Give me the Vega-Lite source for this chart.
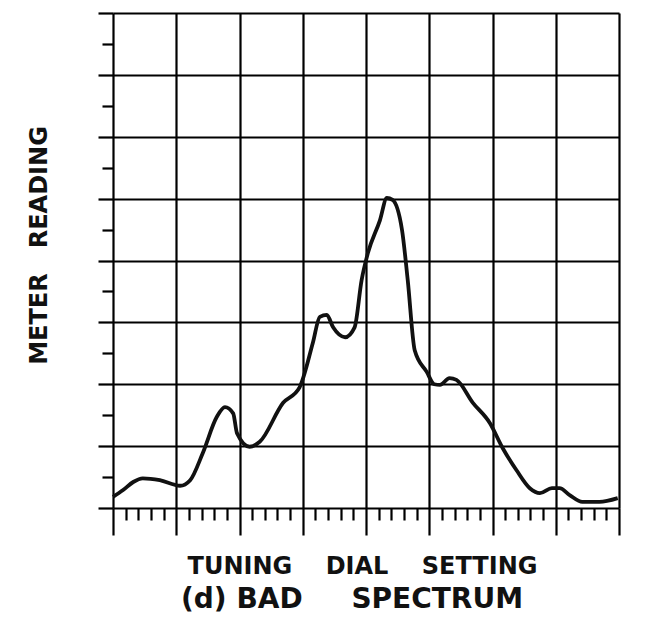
{
  "$schema": "https://vega.github.io/schema/vega-lite/v6.json",
  "width": 506,
  "height": 495,
  "autosize": {"type": "none"},
  "padding": {"left": 113, "top": 13, "right": 39, "bottom": 124},
  "background": "white",
  "config": {
    "view": {"stroke": null},
    "axis": {
      "labels": false,
      "domain": false,
      "grid": true,
      "gridColor": "black",
      "gridWidth": 2.2,
      "tickColor": "black",
      "tickWidth": 2.2,
      "tickCap": "butt",
      "titleFont": "DejaVu Sans",
      "titleFontWeight": "bold",
      "titleColor": "#111111"
    }
  },
  "title": {
    "text": "(d)\u00a0BAD\u00a0\u00a0\u00a0\u00a0\u00a0SPECTRUM",
    "orient": "bottom",
    "anchor": "middle",
    "font": "DejaVu Sans",
    "fontSize": 28,
    "fontWeight": "bold",
    "color": "#111111",
    "offset": 8,
    "dx": -14
  },
  "data": {
    "values": [
      {"dial": 0.0, "reading": 0.18},
      {"dial": 0.16, "reading": 0.29},
      {"dial": 0.32, "reading": 0.42},
      {"dial": 0.47, "reading": 0.48},
      {"dial": 0.74, "reading": 0.45},
      {"dial": 1.06, "reading": 0.36},
      {"dial": 1.22, "reading": 0.45},
      {"dial": 1.42, "reading": 0.89},
      {"dial": 1.64, "reading": 1.47},
      {"dial": 1.77, "reading": 1.63},
      {"dial": 1.9, "reading": 1.53},
      {"dial": 1.96, "reading": 1.21},
      {"dial": 2.16, "reading": 0.99},
      {"dial": 2.32, "reading": 1.07},
      {"dial": 2.69, "reading": 1.7},
      {"dial": 2.95, "reading": 1.95},
      {"dial": 3.16, "reading": 2.67},
      {"dial": 3.27, "reading": 3.09},
      {"dial": 3.38, "reading": 3.12},
      {"dial": 3.48, "reading": 2.92},
      {"dial": 3.67, "reading": 2.76},
      {"dial": 3.82, "reading": 2.92},
      {"dial": 3.93, "reading": 3.68},
      {"dial": 4.03, "reading": 4.12},
      {"dial": 4.22, "reading": 4.65},
      {"dial": 4.33, "reading": 5.01},
      {"dial": 4.42, "reading": 4.98},
      {"dial": 4.57, "reading": 4.49},
      {"dial": 4.66, "reading": 3.68},
      {"dial": 4.77, "reading": 2.55},
      {"dial": 4.96, "reading": 2.2},
      {"dial": 5.08, "reading": 2.0},
      {"dial": 5.17, "reading": 1.99},
      {"dial": 5.32, "reading": 2.1},
      {"dial": 5.43, "reading": 2.07},
      {"dial": 5.69, "reading": 1.7},
      {"dial": 5.96, "reading": 1.37},
      {"dial": 6.16, "reading": 0.97},
      {"dial": 6.38, "reading": 0.61},
      {"dial": 6.59, "reading": 0.32},
      {"dial": 6.75, "reading": 0.24},
      {"dial": 6.94, "reading": 0.32},
      {"dial": 7.06, "reading": 0.32},
      {"dial": 7.22, "reading": 0.21},
      {"dial": 7.42, "reading": 0.1},
      {"dial": 7.69, "reading": 0.1},
      {"dial": 7.98, "reading": 0.16}
    ]
  },
  "mark": {"type": "line", "interpolate": "monotone", "color": "#111111", "strokeWidth": 3.8, "clip": false},
  "encoding": {
    "x": {
      "field": "dial",
      "type": "quantitative",
      "scale": {"domain": [0, 8], "nice": false, "zero": false},
      "axis": {
        "values": [0, 0.2, 0.4, 0.6, 0.8, 1, 1.2, 1.4, 1.6, 1.8, 2, 2.2, 2.4, 2.6, 2.8, 3, 3.2, 3.4, 3.6, 3.8, 4, 4.2, 4.4, 4.6, 4.8, 5, 5.2, 5.4, 5.6, 5.8, 6, 6.2, 6.4, 6.6, 6.8, 7, 7.2, 7.4, 7.6, 7.8, 8],
        "tickSize": {"condition": {"test": "datum.value % 1 === 0", "value": 27}, "value": 12},
        "gridOpacity": {"condition": {"test": "datum.value % 1 === 0", "value": 1}, "value": 0},
        "title": "TUNING\u00a0\u00a0\u00a0\u00a0DIAL\u00a0\u00a0\u00a0\u00a0SETTING",
        "titleFontSize": 24,
        "titlePadding": 18,
        "titleX": 249
      }
    },
    "y": {
      "field": "reading",
      "type": "quantitative",
      "scale": {"domain": [0, 8], "nice": false, "zero": false},
      "axis": {
        "values": [0, 0.5, 1, 1.5, 2, 2.5, 3, 3.5, 4, 4.5, 5, 5.5, 6, 6.5, 7, 7.5, 8],
        "tickSize": {"condition": {"test": "datum.value % 1 === 0", "value": 15}, "value": 11},
        "gridOpacity": {"condition": {"test": "datum.value % 1 === 0", "value": 1}, "value": 0},
        "title": "METER\u00a0\u00a0\u00a0READING",
        "titleFontSize": 24,
        "titlePadding": 45,
        "titleY": 232
      }
    }
  }
}
